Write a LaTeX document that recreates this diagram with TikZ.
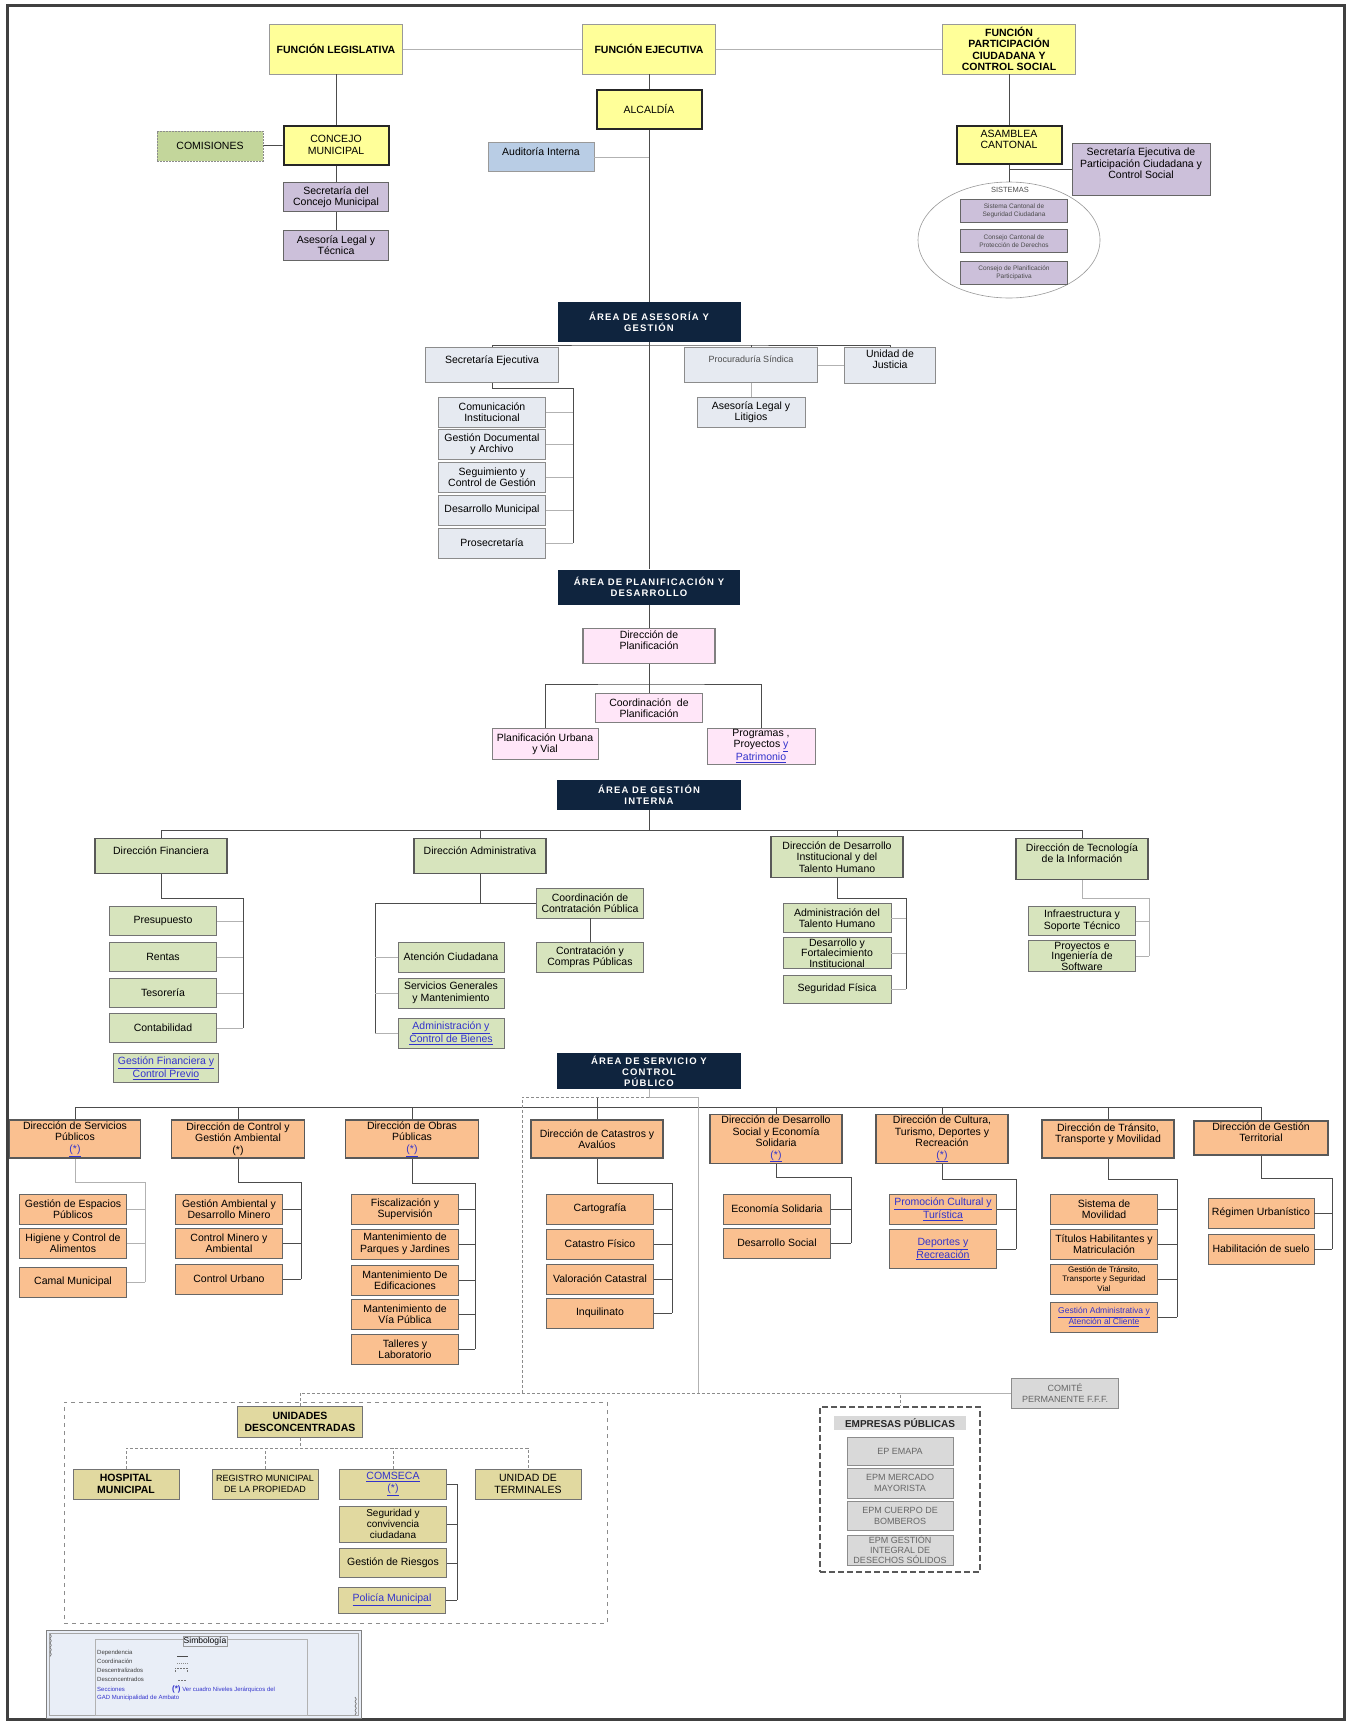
\documentclass[tikz,border=0pt]{standalone}
\usepackage{fontspec}
\setmainfont{Liberation Sans}
\newfontfamily\areafont[LetterSpace=12]{Liberation Sans}
\usetikzlibrary{shapes.geometric}

\definecolor{funcyellow}{HTML}{FFFF99}
\definecolor{lavfill}{HTML}{CCC0DA}
\definecolor{audfill}{HTML}{B9CDE5}
\definecolor{navyfill}{HTML}{0F243E}
\definecolor{asefill}{HTML}{E6EAF1}
\definecolor{planfill}{HTML}{FFE6F8}
\definecolor{gestfill}{HTML}{D7E4BD}
\definecolor{servfill}{HTML}{FAC090}
\definecolor{descfill}{HTML}{E1D9A0}
\definecolor{epfill}{HTML}{D9D9D9}
\definecolor{comfill}{HTML}{C3D69B}
\definecolor{linkblue}{HTML}{3333CC}
\definecolor{simbfill}{HTML}{E9EEF7}

\newcommand{\lnk}[1]{\textcolor{linkblue}{\underline{#1}}}

\tikzset{
  orgbox/.style={draw=black!60, line width=0.7pt, inner sep=1pt, align=center,
    minimum width=107, minimum height=30, font=\fontsize{10.5}{11.5}\selectfont},
  sz/.style 2 args={minimum width=#1, minimum height=#2},
  funcbox/.style={orgbox, fill=funcyellow, draw=black!40, font=\fontsize{10.5}{11.5}\selectfont\bfseries},
  headbox/.style={orgbox, fill=funcyellow, draw=black!85, line width=2pt},
  lavbox/.style={orgbox, fill=lavfill},
  areabox/.style={fill=navyfill, text=white, inner sep=1pt, align=center,
    font=\areafont\fontsize{9.5}{11}\selectfont\bfseries},
  asebox/.style={orgbox, fill=asefill, draw=black!45},
  planbox/.style={orgbox, fill=planfill, draw=black!50},
  gestbox/.style={orgbox, fill=gestfill, draw=black!55},
  servbox/.style={orgbox, fill=servfill, draw=black!60},
  dirbox/.style={line width=1.3pt, draw=black!65},
  descbox/.style={orgbox, fill=descfill, draw=black!55},
  epbox/.style={orgbox, fill=epfill, draw=black!45, text=black!60, font=\fontsize{9}{10.5}\selectfont},
  depline/.style={draw=black!70, line width=0.8pt},
  coordline/.style={draw=black!30, line width=0.8pt},
  dashline/.style={draw=black!45, line width=0.8pt, dash pattern=on 3pt off 2pt},
}

\begin{document}
\begin{tikzpicture}[x=1pt, y=-1pt]
    \useasboundingbox (0,0) rectangle (1349,1721);
    \fill[white] (0,0) rectangle (1349,1721);
    \draw[black!75, line width=3pt] (7,5) rectangle (1344,1719);

    % funciones y alcaldia
    \node[funcbox, sz={133}{50}] (leg) at (336,49) {FUNCIÓN LEGISLATIVA};
    \node[funcbox, sz={133}{50}] (eje) at (649,49) {FUNCIÓN EJECUTIVA};
    \node[funcbox, sz={133}{50}] (par) at (1009,49) {FUNCIÓN\\PARTICIPACIÓN\\CIUDADANA Y\\CONTROL SOCIAL};
    \node[headbox, sz={105}{39}] (alc) at (649,109) {ALCALDÍA};
    \node[headbox, sz={105}{39}] (con) at (336,145) {CONCEJO\\MUNICIPAL};
    \node[headbox, sz={105}{38}] (asa) at (1009,145) {ASAMBLEA\\CANTONAL\\\mbox{}};
    \node[orgbox, fill=comfill, draw=black!45, dash pattern=on 2pt off 1pt, sz={106}{30}] (com) at (210,146) {COMISIONES};
    \node[orgbox, fill=audfill, draw=black!40, sz={106}{29}] (aud) at (541,157) {Auditoría Interna\\\mbox{}};
    \node[lavbox, sz={105}{29}] (secc) at (336,197) {Secretaría del\\Concejo Municipal};
    \node[lavbox, sz={105}{30}] (asel) at (336,245) {Asesoría Legal y\\Técnica};
    \node[lavbox, sz={138}{52}] (sepc) at (1141,169) {Secretaría Ejecutiva de\\Participación Ciudadana y\\Control Social\\\mbox{}};

    % sistemas
    \node[ellipse, draw=black!40, line width=0.6pt, minimum width=182, minimum height=116, inner sep=0pt] (sist) at (1009,240) {};
    \node[font=\fontsize{7.5}{9}\selectfont, text=black!70] (sistt) at (1010,190) {SISTEMAS};
    \node[lavbox, sz={107}{23}, text=black!70, font=\fontsize{6.5}{8}\selectfont] (sis1) at (1014,211) {Sistema Cantonal de\\Seguridad Ciudadana};
    \node[lavbox, sz={107}{23}, text=black!70, font=\fontsize{6.5}{8}\selectfont] (sis2) at (1014,241) {Consejo Cantonal de\\Protección de Derechos};
    \node[lavbox, sz={107}{23}, text=black!70, font=\fontsize{6.5}{8}\selectfont] (sis3) at (1014,273) {Consejo de Planificación\\Participativa};

    % area de asesoria y gestion
    \node[areabox, sz={183}{40}] (aa) at (649,322) {ÁREA DE ASESORÍA Y\\GESTIÓN};
    \node[asebox, line width=1.5pt, sz={133}{35}] (sece) at (492,365) {Secretaría Ejecutiva\\\mbox{}};
    \node[asebox, line width=1.5pt, sz={133}{35}, text=black!70, font=\fontsize{9}{11.5}\selectfont] (proc) at (751,365) {Procuraduría Síndica\\\mbox{}};
    \node[asebox, sz={91}{36}] (uj) at (890,365) {Unidad de\\Justicia\\\mbox{}};
    \node[asebox, sz={108}{30}] (all) at (751,412) {Asesoría Legal y\\Litigios};
    \node[asebox] (ci) at (492,412) {Comunicación\\Institucional};
    \node[asebox] (gd) at (492,444) {Gestión Documental\\y Archivo};
    \node[asebox] (sg) at (492,477) {Seguimiento y\\Control de Gestión};
    \node[asebox] (dm) at (492,510) {Desarrollo Municipal};
    \node[asebox] (pro) at (492,543) {Prosecretaría};

    % area de planificacion y desarrollo
    \node[areabox, sz={182}{35}] (ap) at (649,587) {ÁREA DE PLANIFICACIÓN Y\\DESARROLLO};
    \node[planbox, line width=1.2pt, sz={132}{35}] (dp) at (649,646) {Dirección de\\Planificación\\\mbox{}};
    \node[planbox, sz={107}{29}] (cp) at (649,708) {Coordinación\ \ de\\Planificación};
    \node[planbox, sz={106}{31}] (pu) at (545,744) {Planificación Urbana\\y Vial};
    \node[planbox, sz={108}{36}] (ppp) at (761,746) {Programas ,\\Proyectos \lnk{y}\\\lnk{Patrimonio}};

    % area de gestion interna
    \node[areabox, sz={184}{30}] (agi) at (649,795) {ÁREA DE GESTIÓN\\INTERNA};
    \node[gestbox, dirbox, sz={132}{35}] (dfin) at (161,856) {Dirección Financiera\\\mbox{}};
    \node[gestbox, dirbox, sz={132}{35}] (dadm) at (480,856) {Dirección Administrativa\\\mbox{}};
    \node[gestbox, dirbox, sz={132}{41}] (dth) at (837,857) {Dirección de Desarrollo\\Institucional y del\\Talento Humano};
    \node[gestbox, dirbox, sz={132}{41}] (dti) at (1082,859) {Dirección de Tecnología\\de la Información\\\mbox{}};
    \node[gestbox, sz={107}{29}] (presu) at (163,921) {Presupuesto};
    \node[gestbox, sz={107}{29}] (rent) at (163,957) {Rentas};
    \node[gestbox, sz={107}{29}] (teso) at (163,993) {Tesorería};
    \node[gestbox, sz={107}{29}] (conta) at (163,1028) {Contabilidad};
    \node[gestbox, sz={105}{29}] (gfcp) at (166,1068) {\lnk{Gestión Financiera y}\\\lnk{Control Previo}};
    \node[gestbox] (ccp) at (590,903) {Coordinación de\\Contratación Pública};
    \node[gestbox] (ccom) at (590,957) {Contratación y\\Compras Públicas};
    \node[gestbox, sz={106}{30}] (aten) at (451,957) {Atención Ciudadana};
    \node[gestbox, sz={106}{30}] (sgm) at (451,993) {Servicios Generales\\y Mantenimiento};
    \node[gestbox, sz={106}{30}] (acb) at (451,1033) {\lnk{Administración y}\\\lnk{Control de Bienes}};
    \node[gestbox, sz={108}{29}] (ath) at (837,918) {Administración del\\Talento Humano};
    \node[gestbox, sz={108}{31}, font=\fontsize{10.5}{10.5}\selectfont] (dfi) at (837,953) {Desarrollo y\\Fortalecimiento\\Institucional};
    \node[gestbox, sz={108}{28}] (sf) at (837,989) {Seguridad Física};
    \node[gestbox, sz={107}{29}] (ist) at (1082,921) {Infraestructura y\\Soporte Técnico};
    \node[gestbox, sz={107}{30}, font=\fontsize{10.5}{10.5}\selectfont] (pis) at (1082,956) {Proyectos e\\Ingeniería de\\Software};

    % area de servicio y control publico
    \node[areabox, sz={184}{36}] (asc) at (649,1071) {ÁREA DE SERVICIO Y\\CONTROL\\PÚBLICO};
    \node[servbox, dirbox, sz={131}{38}] (dsp) at (75,1139) {Dirección de Servicios\\Públicos\\\lnk{(*)}};
    \node[servbox, dirbox, sz={133}{38}] (dcga) at (238,1139) {Dirección de Control y\\Gestión Ambiental\\(*)};
    \node[servbox, dirbox, sz={133}{38}] (dop) at (412,1139) {Dirección de Obras\\Públicas\\\lnk{(*)}};
    \node[servbox, dirbox, sz={132}{38}] (dca) at (597,1139) {Dirección de Catastros y\\Avalúos};
    \node[servbox, dirbox, sz={132}{48}] (dds) at (776,1139) {Dirección de Desarrollo\\Social y Economía\\Solidaria\\\lnk{(*)}};
    \node[servbox, dirbox, sz={132}{48}] (dct) at (942,1139) {Dirección de Cultura,\\Turismo, Deportes y\\Recreación\\\lnk{(*)}};
    \node[servbox, dirbox, sz={132}{38}] (dtt) at (1108,1139) {Dirección de Tránsito,\\Transporte y Movilidad\\\mbox{}};
    \node[servbox, dirbox, sz={134}{34}] (dgt) at (1261,1138) {Dirección de Gestión\\Territorial\\\mbox{}};

    \node[servbox] (gep) at (73,1209) {Gestión de Espacios\\Públicos};
    \node[servbox] (hca) at (73,1243) {Higiene y Control de\\Alimentos};
    \node[servbox] (cm) at (73,1282) {Camal Municipal};
    \node[servbox] (gadm) at (229,1209) {Gestión Ambiental y\\Desarrollo Minero};
    \node[servbox] (cma) at (229,1243) {Control Minero y\\Ambiental};
    \node[servbox] (cu) at (229,1279) {Control Urbano};
    \node[servbox] (fs) at (405,1209) {Fiscalización y\\Supervisión};
    \node[servbox] (mpj) at (405,1244) {Mantenimiento de\\Parques y Jardines};
    \node[servbox] (med) at (405,1280) {Mantenimiento De\\Edificaciones};
    \node[servbox] (mvp) at (405,1314) {Mantenimiento de\\Vía Pública};
    \node[servbox] (tl) at (405,1349) {Talleres y\\Laboratorio};
    \node[servbox] (cart) at (600,1209) {Cartografía};
    \node[servbox] (cf) at (600,1244) {Catastro Físico};
    \node[servbox] (vc) at (600,1279) {Valoración Catastral};
    \node[servbox] (inq) at (600,1313) {Inquilinato};
    \node[servbox] (es) at (777,1209) {Economía Solidaria};
    \node[servbox] (ds) at (777,1243) {Desarrollo Social};
    \node[servbox] (pct) at (943,1209) {\lnk{Promoción Cultural y}\\\lnk{Turística}};
    \node[servbox, sz={107}{39}] (dyr) at (943,1249) {\lnk{Deportes y}\\\lnk{Recreación}};
    \node[servbox] (sm) at (1104,1209) {Sistema de\\Movilidad};
    \node[servbox] (thm) at (1104,1244) {Títulos Habilitantes y\\Matriculación};
    \node[servbox, font=\fontsize{8}{9.5}\selectfont] (gtt) at (1104,1279) {Gestión de Tránsito,\\Transporte y Seguridad\\Vial};
    \node[servbox, font=\fontsize{8.5}{10.5}\selectfont] (gaac) at (1104,1317) {\lnk{Gestión Administrativa y}\\\lnk{Atención al Cliente}};
    \node[servbox, sz={106}{30}] (ru) at (1261,1213) {Régimen Urbanístico};
    \node[servbox, sz={106}{30}] (hs) at (1261,1249) {Habilitación de suelo};

    % unidades desconcentradas y empresas publicas
    \node[epbox, sz={107}{30}] (comite) at (1065,1393) {COMITÉ\\PERMANENTE F.F.F.};
    \node[draw=black!65, line width=1.2pt, dash pattern=on 6pt off 3pt, minimum width=160, minimum height=165, inner sep=0pt] (emp) at (900,1489.5) {};
    \node[fill=epfill, minimum width=132, minimum height=14, inner sep=0pt, font=\fontsize{10}{11}\selectfont\bfseries, text=black!85] (ept) at (900,1423) {EMPRESAS PÚBLICAS};
    \node[epbox, sz={106}{28}] (ep1) at (900,1451) {EP EMAPA};
    \node[epbox, sz={106}{30}] (ep2) at (900,1483) {EPM MERCADO\\MAYORISTA};
    \node[epbox, sz={106}{29}] (ep3) at (900,1516) {EPM CUERPO DE\\BOMBEROS};
    \node[epbox, sz={106}{30}, font=\fontsize{9}{10}\selectfont] (ep4) at (900,1550) {EPM GESTIÓN\\INTEGRAL DE\\DESECHOS SÓLIDOS};

    \node[draw=black!45, line width=0.8pt, dash pattern=on 4pt off 4pt, minimum width=543, minimum height=221, inner sep=0pt] (uc) at (335.5,1512.5) {};
    \node[descbox, sz={125}{31}, font=\fontsize{10.5}{11.5}\selectfont\bfseries] (ud) at (300,1422) {UNIDADES\\DESCONCENTRADAS};
    \node[descbox, sz={106}{30}, font=\fontsize{10.5}{11.5}\selectfont\bfseries] (hm) at (126,1484) {HOSPITAL\\MUNICIPAL};
    \node[descbox, sz={106}{30}, font=\fontsize{9}{10.5}\selectfont] (rmp) at (265,1484) {REGISTRO MUNICIPAL\\DE LA PROPIEDAD};
    \node[descbox, sz={107}{30}] (cms) at (393,1484) {\lnk{COMSECA}\\\lnk{(*)}};
    \node[descbox, sz={106}{30}] (ut) at (528,1484) {UNIDAD DE\\TERMINALES};
    \node[descbox, sz={107}{36}, font=\fontsize{10}{11}\selectfont] (scc) at (393,1524) {Seguridad y\\convivencia\\ciudadana};
    \node[descbox, sz={107}{29}] (gr) at (393,1563) {Gestión de Riesgos};
    \node[descbox, sz={107}{26}] (pm) at (392,1600) {\lnk{Policía Municipal}};

    % simbologia
    \node[draw=black!50, line width=0.8pt, fill=simbfill, minimum width=315, minimum height=88, inner sep=0pt] (simb) at (203.5,1674) {};
    \node[draw=black!35, line width=0.6pt, minimum width=309, minimum height=82, inner sep=0pt] (simb2) at (203.5,1674) {};
    \node[draw=black!30, minimum width=212, minimum height=76, inner sep=0pt] (simi) at (201,1677) {};
    \node[draw=black!40, fill=simbfill, inner sep=1pt, font=\fontsize{8.5}{10}\selectfont] (simt) at (205,1641) {Simbología};
    \begin{scope}[font=\fontsize{6}{7}\selectfont, text=black!75]
      \node[anchor=west, inner sep=0pt] (s1) at (97,1653) {Dependencia};
      \node[anchor=west, inner sep=0pt] (s2) at (97,1661) {Coordinación};
      \node[anchor=west, inner sep=0pt] (s3) at (97,1670) {Descentralizados};
      \node[anchor=west, inner sep=0pt] (s4) at (97,1679) {Desconcentrados};
      \node[anchor=west, inner sep=0pt, text=linkblue] (s5) at (97,1689) {Secciones};
      \node[anchor=west, inner sep=0pt, text=linkblue] (s6) at (97,1698) {GAD Municipalidad de Ambato};
      \node[anchor=west, inner sep=0pt, text=linkblue] (s7) at (172,1689) {{\fontsize{8}{9}\selectfont\bfseries(*)} Ver cuadro Niveles Jerárquicos del};
    \end{scope}
    \draw[black!70, line width=0.6pt] (177,1656) -- (188,1656);
    \draw[black!45, line width=0.6pt, dash pattern=on 1pt off 1pt] (177,1663) -- (188,1663);
    \draw[black!55, line width=0.6pt, dash pattern=on 2pt off 1pt] (175,1672) -- (175,1668) -- (187,1668) -- (187,1672);
    \draw[black!55, line width=0.6pt, dash pattern=on 2pt off 1pt] (178,1680) -- (186,1680);
    \foreach \k in {0,...,4}
      \draw[black!55, line width=0.7pt] (50,1634+4.5*\k) to[bend left=80] (50,1638.5+4.5*\k);
    \foreach \k in {0,...,3}
      \draw[black!55, line width=0.7pt] (355,1697+4.5*\k) to[bend left=80] (355,1701.5+4.5*\k);

    % draw the edges
    \draw[coordline] (leg) -- (eje) -- (par);
    \draw[depline] (leg) -- (con);
    \draw[depline] (com) -- (con);
    \draw[depline] (con) -- (secc) -- (asel);
    \draw[depline] (eje) -- (alc) -- (aa);
    \draw[coordline] (aud.east) -- (aud.east -| alc.south);
    \draw[depline] (par) -- (asa) -- (sist);
    \draw[depline] (sepc.west) -- (sepc.west -| asa.south);
    \draw[depline] (aa) -- (ap) -- (dp) -- (cp);

    \coordinate (abar) at (649,345);
    \draw[depline] (sece.north) |- (abar) -| (uj.north);
    \draw[depline] (proc.north) -- (proc.north |- abar);
    \draw[coordline] (proc) -- (uj);
    \draw[coordline] (proc) -- (all);
    \coordinate (secer) at (573,388);
    \draw[depline] (sece.south) |- (secer) -- (secer |- pro.east);
    \foreach \n in {ci,gd,sg,dm,pro}
      \draw[coordline] (\n.east) -- (secer |- \n.east);

    \coordinate (pbar) at (649,684);
    \draw[depline] (pu.north) |- (pbar) -| (ppp.north);

    \coordinate (gbar) at (649,830);
    \draw[depline] (agi.south) -- (gbar);
    \draw[depline] (dfin.north) |- (gbar) -| (dti.north);
    \draw[depline] (dadm.north) -- (dadm.north |- gbar);
    \draw[depline] (dth.north) -- (dth.north |- gbar);
    \coordinate (finr) at (243,898);
    \draw[depline] (dfin.south) |- (finr) -- (finr |- conta.east);
    \foreach \n in {presu,rent,teso,conta}
      \draw[coordline] (\n.east) -- (finr |- \n.east);
    \coordinate (admb) at (480,903);
    \coordinate (adml) at (375,903);
    \draw[depline] (dadm.south) -- (admb);
    \draw[depline] (ccp.west) -- (adml) -- (adml |- acb.west);
    \foreach \n in {aten,sgm,acb}
      \draw[coordline] (\n.west) -- (adml |- \n.west);
    \draw[depline] (ccp) -- (ccom);
    \coordinate (thr) at (906,898);
    \draw[depline] (dth.south) |- (thr) -- (thr |- sf.east);
    \foreach \n in {ath,dfi,sf}
      \draw[coordline] (\n.east) -- (thr |- \n.east);
    \coordinate (tir) at (1149,898);
    \draw[coordline] (dti.south) |- (tir) -- (tir |- pis.east);
    \foreach \n in {ist,pis}
      \draw[coordline] (\n.east) -- (tir |- \n.east);

    \coordinate (sbar) at (649,1107);
    \draw[depline] (dsp.north) |- (sbar) -| (dgt.north);
    \foreach \n in {dcga,dop,dds,dct,dtt}
      \draw[depline] (\n.north) -- (\n.north |- sbar);
    \coordinate (stop) at (649,1097);
    \coordinate (stl) at (522,1097);
    \coordinate (str) at (698,1097);
    \draw[depline] (dca.north) -- (dca.north |- stop);
    \draw[coordline] (asc.south) -- (stop) -- (str) -- (str |- comite.west);
    \draw[dashline] (stop) -- (stl) -- (stl |- comite.west);
    \draw[dashline] (ud.north) |- (stl |- comite.west) -| (emp.north);
    \draw[coordline] (comite.west) -- (comite.west -| emp.north);

    \coordinate (dspr) at (145,1182);
    \draw[coordline] (dsp.south) |- (dspr) -- (dspr |- cm.east);
    \foreach \n in {gep,hca,cm}
      \draw[coordline] (\n.east) -- (dspr |- \n.east);
    \coordinate (dcgar) at (301,1182);
    \draw[depline] (dcga.south) |- (dcgar) -- (dcgar |- cu.east);
    \foreach \n in {gadm,cma,cu}
      \draw[depline] (\n.east) -- (dcgar |- \n.east);
    \coordinate (dopr) at (475,1183);
    \draw[depline] (dop.south) |- (dopr) -- (dopr |- tl.east);
    \foreach \n in {fs,mpj,med,mvp,tl}
      \draw[depline] (\n.east) -- (dopr |- \n.east);
    \coordinate (dcar) at (672,1183);
    \draw[depline] (dca.south) |- (dcar) -- (dcar |- inq.east);
    \foreach \n in {cart,cf,vc,inq}
      \draw[depline] (\n.east) -- (dcar |- \n.east);
    \coordinate (ddsr) at (851,1177);
    \draw[depline] (dds.south) |- (ddsr) -- (ddsr |- ds.east);
    \foreach \n in {es,ds}
      \draw[depline] (\n.east) -- (ddsr |- \n.east);
    \coordinate (dctr) at (1016,1179);
    \draw[depline] (dct.south) |- (dctr) -- (dctr |- dyr.east);
    \foreach \n in {pct,dyr}
      \draw[depline] (\n.east) -- (dctr |- \n.east);
    \coordinate (dttr) at (1177,1179);
    \draw[depline] (dtt.south) |- (dttr) -- (dttr |- gaac.east);
    \foreach \n in {sm,thm,gtt,gaac}
      \draw[depline] (\n.east) -- (dttr |- \n.east);
    \coordinate (dgtr) at (1332,1178);
    \draw[depline] (dgt.south) |- (dgtr) -- (dgtr |- hs.east);
    \foreach \n in {ru,hs}
      \draw[depline] (\n.east) -- (dgtr |- \n.east);

    \coordinate (ubar) at (300,1448);
    \draw[dashline] (ud.south) -- (ubar);
    \draw[dashline] (hm.north) |- (ubar) -| (ut.north);
    \draw[dashline] (rmp.north) -- (rmp.north |- ubar);
    \draw[dashline] (cms.north) -- (cms.north |- ubar);
    \coordinate (cmsr) at (457,1484);
    \draw[depline] (cms.east) -- (cmsr) -- (cmsr |- pm.east);
    \foreach \n in {scc,gr,pm}
      \draw[depline] (\n.east) -- (cmsr |- \n.east);
\end{tikzpicture}
\end{document}
